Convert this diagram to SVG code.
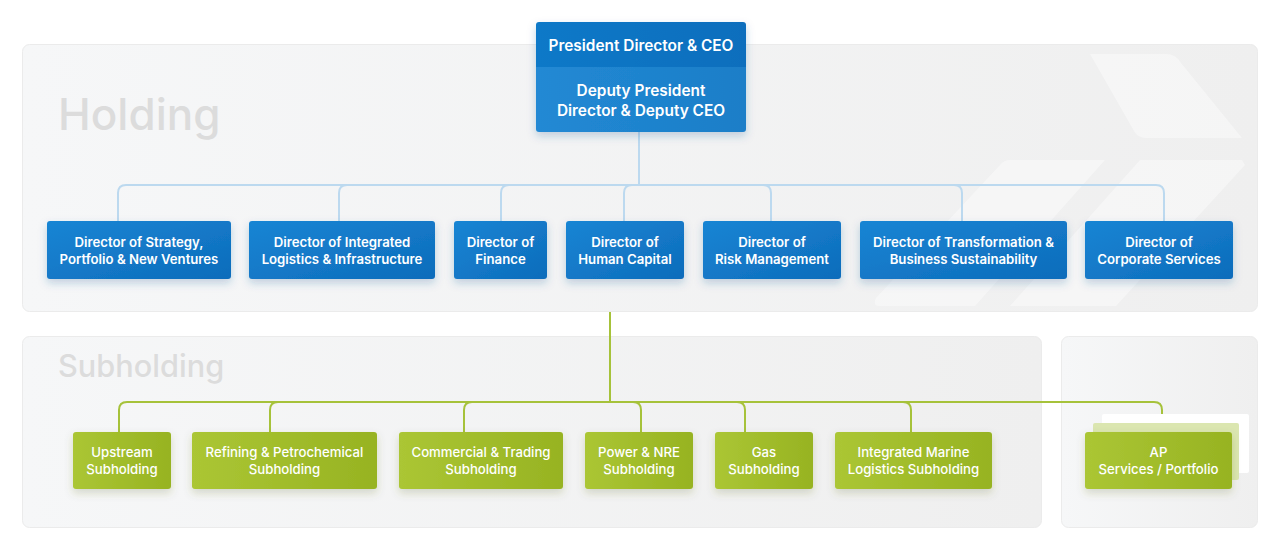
<svg xmlns="http://www.w3.org/2000/svg" width="1280" height="550" viewBox="0 0 1280 550">
<style>
.panel{stroke:#ebebeb;stroke-width:1}
.ptitle{font-family:Inter,"Noto Sans","Liberation Sans",sans-serif;font-weight:500;fill:#dcdcdc}
.t{font-family:Inter,"Noto Sans","Liberation Sans",sans-serif;font-weight:600;fill:#ffffff;text-anchor:middle;font-size:13.2px}
.tg{font-family:Inter,"Noto Sans","Liberation Sans",sans-serif;font-weight:500;fill:#ffffff;text-anchor:middle;font-size:13.2px}
.tc{font-family:Inter,"Noto Sans","Liberation Sans",sans-serif;font-weight:600;fill:#ffffff;text-anchor:middle;font-size:15.4px}
.blue{fill:url(#gBlue);filter:url(#shB)}
.green{fill:url(#gGreen);filter:url(#shG)}
.cb{fill:none;stroke:#bcd9ef;stroke-width:2}
.cg{fill:none;stroke:#a6c23a;stroke-width:2}
.wm{fill:#ffffff;opacity:0.4}
</style>
<defs>
<linearGradient id="gPanel" x1="0" y1="0" x2="1" y2="0">
<stop offset="0" stop-color="#f6f7f8"/><stop offset="1" stop-color="#efefef"/>
</linearGradient>
<linearGradient id="gBlue" x1="0" y1="0" x2="1" y2="1">
<stop offset="0" stop-color="#1985d4"/><stop offset="1" stop-color="#0d6cbb"/>
</linearGradient>
<linearGradient id="gGreen" x1="0" y1="0" x2="1" y2="0">
<stop offset="0" stop-color="#abc634"/><stop offset="1" stop-color="#97b322"/>
</linearGradient>
<linearGradient id="gCeoTop" x1="0" y1="0" x2="1" y2="0">
<stop offset="0" stop-color="#1079c8"/><stop offset="1" stop-color="#0d6ebd"/>
</linearGradient>
<linearGradient id="gCeoBot" x1="0" y1="0" x2="1" y2="0">
<stop offset="0" stop-color="#2189d4"/><stop offset="1" stop-color="#1d7ec8"/>
</linearGradient>
<filter id="shB" x="-20%" y="-20%" width="140%" height="160%">
<feDropShadow dx="0" dy="4" stdDeviation="4" flood-color="#1a5f99" flood-opacity="0.25"/>
</filter>
<filter id="shG" x="-20%" y="-20%" width="140%" height="160%">
<feDropShadow dx="0" dy="4" stdDeviation="4" flood-color="#5d6b1a" flood-opacity="0.22"/>
</filter>
</defs>
<rect width="1280" height="550" fill="#ffffff"/>

<g id="panel-holding">
<rect class="panel" x="22.5" y="44.5" width="1235" height="267" rx="7" fill="url(#gPanel)"/>
<path class="wm" d="M1090,54 H1166 Q1176,54 1181,63 L1242,138 H1146 Q1138,138 1134,131 Z"/>
<path class="wm" d="M1010,160 H1105 L975,306 H880 Q872,306 876,298 L1000,165 Q1004,160 1010,160 Z"/>
<path class="wm" d="M1140,160 H1242 L1245,165 L1116,306 H1010 Z"/>
<text class="ptitle" x="58" y="130" font-size="44">Holding</text>
</g>

<g id="panel-subholding">
<rect class="panel" x="22.5" y="336.5" width="1019" height="191" rx="7" fill="url(#gPanel)"/>
<text class="ptitle" x="58" y="377" font-size="30.7">Subholding</text>
</g>

<g id="panel-ap">
<rect class="panel" x="1061.5" y="336.5" width="196" height="191" rx="7" fill="url(#gPanel)"/>
</g>

<g id="connectors">
<path class="cb" d="M639,132 V185"/>
<path class="cb" d="M118,221 V193 Q118,185 126,185 H1156 Q1164,185 1164,193 V221"/>
<path class="cb" d="M339,221 V193 Q339,185 347,185"/>
<path class="cb" d="M501,221 V193 Q501,185 509,185"/>
<path class="cb" d="M624,221 V193 Q624,185 632,185"/>
<path class="cb" d="M763,185 Q771,185 771,193 V221"/>
<path class="cb" d="M954,185 Q962,185 962,193 V221"/>
<path class="cg" d="M610,312 V402"/>
<path class="cg" d="M119,432 V410 Q119,402 127,402 H1154 Q1162,402 1162,410 V432"/>
<path class="cg" d="M270,432 V410 Q270,402 278,402"/>
<path class="cg" d="M464,432 V410 Q464,402 472,402"/>
<path class="cg" d="M633,402 Q641,402 641,410 V432"/>
<path class="cg" d="M737,402 Q745,402 745,410 V432"/>
<path class="cg" d="M903,402 Q911,402 911,410 V432"/>
</g>

<g id="ceo">
<g filter="url(#shB)">
<path d="M539,22 H743 Q746,22 746,25 V67 H536 V25 Q536,22 539,22 Z" fill="url(#gCeoTop)"/>
<path d="M536,67 H746 V129 Q746,132 743,132 H539 Q536,132 536,129 Z" fill="url(#gCeoBot)"/>
</g>
<text class="tc" x="641" y="50.5">President Director &amp; CEO</text>
<text class="tc" x="641" y="96">Deputy President</text>
<text class="tc" x="641" y="115.5">Director &amp; Deputy CEO</text>
</g>

<g id="dir-strategy">
<rect class="blue" x="47" y="221" width="184" height="58" rx="3"/>
<text class="t" x="139" y="246.5">Director of Strategy,</text>
<text class="t" x="139" y="263.5">Portfolio &amp; New Ventures</text>
</g>
<g id="dir-logistics">
<rect class="blue" x="249" y="221" width="186" height="58" rx="3"/>
<text class="t" x="342" y="246.5">Director of Integrated</text>
<text class="t" x="342" y="263.5">Logistics &amp; Infrastructure</text>
</g>
<g id="dir-finance">
<rect class="blue" x="454" y="221" width="93" height="58" rx="3"/>
<text class="t" x="500.5" y="246.5">Director of</text>
<text class="t" x="500.5" y="263.5">Finance</text>
</g>
<g id="dir-hc">
<rect class="blue" x="566" y="221" width="118" height="58" rx="3"/>
<text class="t" x="625" y="246.5">Director of</text>
<text class="t" x="625" y="263.5">Human Capital</text>
</g>
<g id="dir-risk">
<rect class="blue" x="703" y="221" width="138" height="58" rx="3"/>
<text class="t" x="772" y="246.5">Director of</text>
<text class="t" x="772" y="263.5">Risk Management</text>
</g>
<g id="dir-transformation">
<rect class="blue" x="860" y="221" width="207" height="58" rx="3"/>
<text class="t" x="963.5" y="246.5">Director of Transformation &amp;</text>
<text class="t" x="963.5" y="263.5">Business Sustainability</text>
</g>
<g id="dir-corporate">
<rect class="blue" x="1085" y="221" width="148" height="58" rx="3"/>
<text class="t" x="1159" y="246.5">Director of</text>
<text class="t" x="1159" y="263.5">Corporate Services</text>
</g>

<g id="sub-upstream">
<rect class="green" x="73" y="432" width="98" height="57" rx="3"/>
<text class="tg" x="122" y="457">Upstream</text>
<text class="tg" x="122" y="473.5">Subholding</text>
</g>
<g id="sub-refining">
<rect class="green" x="192" y="432" width="185" height="57" rx="3"/>
<text class="tg" x="284.5" y="457">Refining &amp; Petrochemical</text>
<text class="tg" x="284.5" y="473.5">Subholding</text>
</g>
<g id="sub-commercial">
<rect class="green" x="399" y="432" width="164" height="57" rx="3"/>
<text class="tg" x="481" y="457">Commercial &amp; Trading</text>
<text class="tg" x="481" y="473.5">Subholding</text>
</g>
<g id="sub-power">
<rect class="green" x="585" y="432" width="108" height="57" rx="3"/>
<text class="tg" x="639" y="457">Power &amp; NRE</text>
<text class="tg" x="639" y="473.5">Subholding</text>
</g>
<g id="sub-gas">
<rect class="green" x="715" y="432" width="98" height="57" rx="3"/>
<text class="tg" x="764" y="457">Gas</text>
<text class="tg" x="764" y="473.5">Subholding</text>
</g>
<g id="sub-marine">
<rect class="green" x="835" y="432" width="157" height="57" rx="3"/>
<text class="tg" x="913.5" y="457">Integrated Marine</text>
<text class="tg" x="913.5" y="473.5">Logistics Subholding</text>
</g>
<g id="ap">
<rect x="1102" y="414" width="147" height="59" rx="2" fill="#ffffff"/>
<rect x="1093" y="423" width="146" height="57" rx="2" fill="#dbe6b0"/>
<rect class="green" x="1085" y="432" width="147" height="57" rx="3"/>
<text class="tg" x="1158.5" y="457">AP</text>
<text class="tg" x="1158.5" y="473.5">Services / Portfolio</text>
</g>
</svg>
